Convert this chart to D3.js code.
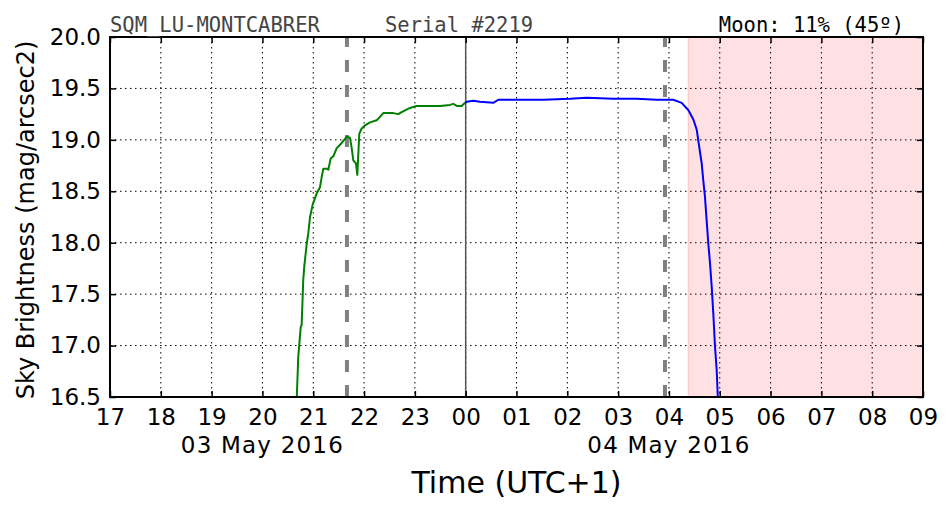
<!DOCTYPE html>
<html><head><meta charset="utf-8">
<script src="https://cdnjs.cloudflare.com/ajax/libs/d3/7.8.5/d3.min.js"></script>
<style>body{margin:0;background:#fff}svg{display:block}</style>
</head><body>
<svg id="c" width="952" height="512"></svg>
<script>
// ---- data (times in minutes after 03 May 2016 17:00 UTC+1) ----
const greenMinutes = [220.4, 222.3, 225.2, 226.3, 228.2, 229.4, 232.3, 234.1, 236.2, 239.3, 244.1, 248.0, 250.0, 251.9, 255.9, 257.8, 260.6, 263.7, 267.7, 273.6, 279.5, 283.4, 285.4, 287.3, 290.5, 292.0, 294.4, 297.2, 301.1, 307.0, 314.9, 322.7, 334.5, 340.4, 344.4, 354.2, 362.1, 374.0, 389.7, 401.5, 405.4, 409.4, 415.3, 419.2];
const greenValues  = [16.46, 16.89, 17.18, 17.20, 17.64, 17.77, 17.99, 18.09, 18.25, 18.37, 18.48, 18.54, 18.64, 18.72, 18.72, 18.71, 18.82, 18.84, 18.92, 18.97, 19.03, 19.02, 18.92, 18.80, 18.77, 18.66, 19.06, 19.11, 19.14, 19.17, 19.19, 19.26, 19.26, 19.25, 19.27, 19.31, 19.33, 19.33, 19.33, 19.34, 19.35, 19.33, 19.33, 19.36];
const blueMinutes  = [419.2, 421.2, 429.0, 436.9, 452.6, 458.5, 480.2, 511.6, 543.2, 562.9, 594.3, 621.9, 645.5, 665.1, 675.0, 682.8, 688.7, 692.8, 695.8, 698.7, 700.5, 702.5, 704.5, 706.5, 708.5, 710.5, 712.4, 714.4, 716.4, 717.6, 718.5];
const blueValues   = [19.36, 19.37, 19.38, 19.37, 19.36, 19.39, 19.39, 19.39, 19.40, 19.41, 19.40, 19.40, 19.39, 19.39, 19.36, 19.29, 19.20, 19.10, 18.93, 18.77, 18.61, 18.45, 18.22, 17.99, 17.80, 17.57, 17.31, 16.99, 16.76, 16.52, 16.40];
const dashedLineMinutes = [279.8, 655.3];
const midnightMinutes = 420;
const shadeStartMinutes = 682.9;
const yTicks = [16.5, 17.0, 17.5, 18.0, 18.5, 19.0, 19.5, 20.0];
const dateLabels = [{m: 180, text: "03 May 2016"}, {m: 660, text: "04 May 2016"}];
const titleLeft = "SQM_LU-MONTCABRER";
const titleMid = "Serial #2219";
const titleRight = "Moon: 11% (45º)";
const xLabel = "Time (UTC+1)";
const yLabel = "Sky Brightness (mag/arcsec2)";

// ---- layout ----
const W = 952, H = 512;
const m = {l: 110, r: 29, t: 37, b: 115};
const iw = W - m.l - m.r, ih = H - m.t - m.b;
const base = Date.UTC(2016, 4, 3, 17, 0, 0);
const toDate = mm => new Date(base + mm * 60000);

const x = d3.scaleUtc().domain([toDate(0), toDate(16 * 60)]).range([0, iw]);
const y = d3.scaleLinear().domain([16.5, 20.0]).range([ih, 0]);

const svg = d3.select("#c");
const g = svg.append("g").attr("transform", `translate(${m.l},${m.t})`);
svg.append("defs").append("clipPath").attr("id", "clip")
  .append("rect").attr("width", iw).attr("height", ih);

// shaded region
g.append("rect")
  .attr("x", x(toDate(shadeStartMinutes))).attr("y", 0)
  .attr("width", iw - x(toDate(shadeStartMinutes))).attr("height", ih)
  .attr("fill", "#ffe1e3");
g.append("line")
  .attr("x1", x(toDate(shadeStartMinutes))).attr("x2", x(toDate(shadeStartMinutes)))
  .attr("y1", 0).attr("y2", ih).attr("stroke", "#ffc8c8").attr("stroke-width", 1.2);

// grid
const xTickVals = x.ticks(d3.utcHour.every(1));
g.append("g").selectAll("line").data(xTickVals).join("line")
  .attr("x1", d => x(d)).attr("x2", d => x(d)).attr("y1", 0).attr("y2", ih)
  .attr("stroke", "#000").attr("stroke-width", 1).attr("stroke-dasharray", "1.5,3.5");
g.append("g").selectAll("line").data(yTicks).join("line")
  .attr("x1", 0).attr("x2", iw).attr("y1", d => y(d)).attr("y2", d => y(d))
  .attr("stroke", "#000").attr("stroke-width", 1).attr("stroke-dasharray", "1.5,3.5");

// midnight line
g.append("line")
  .attr("x1", x(toDate(midnightMinutes))).attr("x2", x(toDate(midnightMinutes)))
  .attr("y1", 0).attr("y2", ih).attr("stroke", "#555").attr("stroke-width", 1.5);

// dashed lines (drawn bottom to top)
g.append("g").selectAll("line").data(dashedLineMinutes).join("line")
  .attr("x1", d => x(toDate(d))).attr("x2", d => x(toDate(d)))
  .attr("y1", ih).attr("y2", 0)
  .attr("stroke", "#808080").attr("stroke-width", 4).attr("stroke-dasharray", "12,13");

// data lines
const line = d3.line().x(d => x(toDate(d[0]))).y(d => y(d[1]));
const plot = g.append("g").attr("clip-path", "url(#clip)");
plot.append("path").datum(d3.zip(greenMinutes, greenValues))
  .attr("d", line).attr("fill", "none").attr("stroke", "#008000").attr("stroke-width", 2).attr("stroke-linejoin", "round");
plot.append("path").datum(d3.zip(blueMinutes, blueValues))
  .attr("d", line).attr("fill", "none").attr("stroke", "#0000ff").attr("stroke-width", 2).attr("stroke-linejoin", "round");

// axes
const fontTick = "23px 'DejaVu Sans'";
const xAxis = d3.axisBottom(x).ticks(d3.utcHour.every(1)).tickFormat(d3.utcFormat("%H")).tickSize(-6).tickPadding(12);
const gx = g.append("g").attr("transform", `translate(0,${ih})`).call(xAxis);
const xAxisTop = d3.axisTop(x).ticks(d3.utcHour.every(1)).tickFormat("").tickSize(-6);
const gxt = g.append("g").call(xAxisTop);
const yAxis = d3.axisLeft(y).tickValues(yTicks).tickFormat(d3.format(".1f")).tickSize(-6).tickPadding(9);
const gy = g.append("g").call(yAxis);
const yAxisR = d3.axisRight(y).tickValues(yTicks).tickFormat("").tickSize(-6);
const gyr = g.append("g").attr("transform", `translate(${iw},0)`).call(yAxisR);
[gx, gxt, gy, gyr].forEach(a => {
  a.select(".domain").remove();
  a.selectAll(".tick line").attr("stroke", "#000").attr("stroke-width", 1.5);
  a.selectAll("text").style("font", fontTick).attr("fill", "#000");
});

// frame
g.append("rect").attr("width", iw).attr("height", ih).attr("fill", "none")
  .attr("stroke", "#000").attr("stroke-width", 2);

// date labels
g.append("g").selectAll("text").data(dateLabels).join("text")
  .attr("x", d => x(toDate(d.m))).attr("y", ih + 56)
  .attr("text-anchor", "middle").style("font", fontTick).style("letter-spacing", "1.2px").text(d => d.text);

// axis titles
svg.append("text").attr("x", m.l + iw / 2).attr("y", 493).attr("text-anchor", "middle")
  .style("font", "30px 'DejaVu Sans'").text(xLabel);
svg.append("text").attr("transform", `translate(34,${m.t + ih / 2 + 3}) rotate(-90)`)
  .attr("text-anchor", "middle").style("font", "24px 'DejaVu Sans'").text(yLabel);

// header texts
const hfont = "20.5px 'DejaVu Sans Mono'";
svg.append("text").attr("x", m.l).attr("y", 32).attr("fill", "#444")
  .style("font", hfont).text(titleLeft);
svg.append("text").attr("x", 385).attr("y", 32).attr("fill", "#444")
  .style("font", hfont).text(titleMid);
svg.append("text").attr("x", 904).attr("y", 32).attr("text-anchor", "end").attr("fill", "#000")
  .style("font", hfont).text(titleRight);
</script>
</body></html>
